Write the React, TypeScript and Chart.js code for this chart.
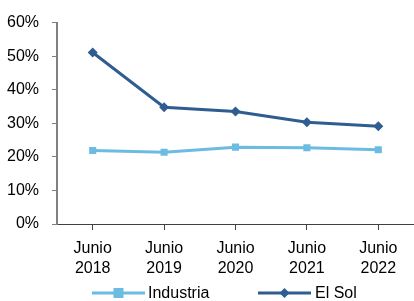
import React, { useEffect, useRef } from "react";
import { Chart, registerables } from "chart.js";

Chart.register(...registerables);

const categories: string[][] = [
  ["Junio", "2018"],
  ["Junio", "2019"],
  ["Junio", "2020"],
  ["Junio", "2021"],
  ["Junio", "2022"],
];
const industria: number[] = [21.9, 21.4, 22.9, 22.7, 22.1];
const elSol: number[] = [51.1, 34.8, 33.5, 30.3, 29.1];
const yTicks: number[] = [0, 10, 20, 30, 40, 50, 60];

const FONT = "'Liberation Sans Narrow', 'Arial Narrow', 'Liberation Sans', Arial, sans-serif";
const C_IND = "#6BBCE0";
const C_SOL = "#2F5D92";

const legendPlugin = {
  id: "customLegend",
  afterDraw(chart: any) {
    const ctx = chart.ctx as CanvasRenderingContext2D;
    const y = 293;
    const items = [
      { x0: 92, x1: 145, tx: 148 },
      { x0: 258, x1: 311, tx: 315 },
    ];
    chart.data.datasets.forEach((ds: any, i: number) => {
      const it = items[i];
      ctx.save();
      ctx.strokeStyle = ds.borderColor;
      ctx.lineWidth = 3;
      ctx.beginPath();
      ctx.moveTo(it.x0, y);
      ctx.lineTo(it.x1, y);
      ctx.stroke();
      const cx = (it.x0 + it.x1) / 2;
      ctx.fillStyle = ds.pointBackgroundColor;
      if (ds.pointStyle === "rect") {
        ctx.fillRect(cx - 5, y - 5, 10, 10);
      } else {
        ctx.beginPath();
        ctx.moveTo(cx, y - 5);
        ctx.lineTo(cx + 5, y);
        ctx.lineTo(cx, y + 5);
        ctx.lineTo(cx - 5, y);
        ctx.closePath();
        ctx.fill();
      }
      ctx.fillStyle = "#000";
      ctx.font = `16px ${FONT}`;
      ctx.textAlign = "left";
      ctx.textBaseline = "middle";
      ctx.fillText(ds.label, it.tx, y + 1);
      ctx.restore();
    });
  },
};

export default function App() {
  const ref = useRef<HTMLCanvasElement | null>(null);
  useEffect(() => {
    if (!ref.current) return;
    const chart = new Chart(ref.current, {
      type: "line",
      data: {
        labels: categories,
        datasets: [
          {
            label: "Industria",
            data: industria,
            borderColor: C_IND,
            backgroundColor: C_IND,
            pointBackgroundColor: C_IND,
            pointBorderColor: C_IND,
            pointStyle: "rect",
            pointRadius: 5,
            pointBorderWidth: 0,
            borderWidth: 3,
            tension: 0,
          },
          {
            label: "El Sol",
            data: elSol,
            borderColor: C_SOL,
            backgroundColor: C_SOL,
            pointBackgroundColor: C_SOL,
            pointBorderColor: C_SOL,
            pointStyle: "rectRot",
            pointRadius: 5,
            pointBorderWidth: 0,
            borderWidth: 3,
            tension: 0,
          },
        ],
      },
      options: {
        animation: false,
        responsive: true,
        maintainAspectRatio: false,
        layout: { autoPadding: false, padding: { top: 22, right: -3, bottom: 26, left: 0 } },
        plugins: {
          legend: { display: false },
          tooltip: { enabled: false },
        },
        scales: {
          x: {
            offset: true,
            grid: {
              display: true,
              drawOnChartArea: false,
              drawTicks: true,
              tickLength: 6,
              color: "#404040",
              lineWidth: 1,
            },
            border: { display: true, color: "#404040", width: 1 },
            ticks: {
              color: "#000",
              font: { family: FONT, size: 16, lineHeight: 1.25 },
              padding: 9,
              maxRotation: 0,
              autoSkip: false,
            },
            afterFit(scale: any) {
              scale.height = 51;
            },
          },
          y: {
            min: 0,
            max: 60,
            afterBuildTicks(scale: any) {
              scale.ticks = yTicks.map((v) => ({ value: v }));
            },
            grid: {
              display: true,
              drawOnChartArea: false,
              drawTicks: true,
              tickLength: 5,
              color: "#808080",
              lineWidth: 1,
            },
            border: { display: true, color: "#808080", width: 2 },
            ticks: {
              color: "#000",
              font: { family: FONT, size: 16 },
              padding: 13,
              callback: (v: any) => `${v}%`,
            },
            afterFit(scale: any) {
              scale.width = 57;
            },
          },
        },
      },
      plugins: [legendPlugin],
    });
    return () => chart.destroy();
  }, []);
  return (
    <div style={{ position: "absolute", left: 0, top: 0, width: 414, height: 301, background: "#fff" }}>
      <canvas ref={ref} />
    </div>
  );
}
